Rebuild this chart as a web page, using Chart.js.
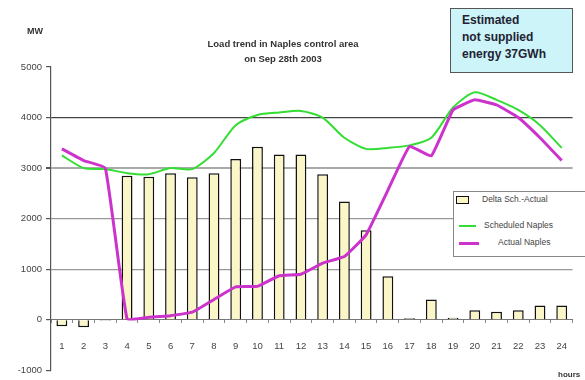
<!DOCTYPE html>
<html><head><meta charset="utf-8">
<script src="https://cdn.jsdelivr.net/npm/chart.js@4/dist/chart.umd.min.js"></script>
<style>
html,body{margin:0;padding:0;background:#fff;overflow:hidden;width:585px;height:380px;}
#wrap{position:relative;width:585px;height:380px;font-family:"Liberation Sans",Arial,sans-serif;}
canvas{position:absolute;left:0;top:0;}
.t{position:absolute;white-space:nowrap;}
</style></head><body>
<div id="wrap">
<canvas id="c" width="585" height="380"></canvas>
<div class="t" style="left:27px;top:26px;font-size:9px;font-weight:bold;color:#333;">MW</div>
<div class="t" style="left:183px;top:36px;width:200px;text-align:center;font-size:9.5px;font-weight:bold;color:#333;line-height:15px;">Load trend in Naples control area<br>on Sep 28th 2003</div>
<div class="t" style="left:450px;top:8px;width:121px;height:63px;background:#cdf4f8;border:1px solid #555;"></div>
<div class="t" style="left:462px;top:12px;font-size:12px;font-weight:bold;color:#223;line-height:17px;">Estimated<br>not supplied<br>energy 37GWh</div>
<div class="t" style="left:453px;top:191px;width:140px;height:64px;background:#fff;border:1px solid #888;"></div>
<div class="t" style="left:456px;top:196px;width:11px;height:6px;background:#fbf6c8;border:1.5px solid #111;"></div>
<div class="t" style="left:482px;top:194px;font-size:8.5px;color:#444;">Delta Sch.-Actual</div>
<div class="t" style="left:459px;top:225px;width:17px;height:1.5px;background:#33dd33;"></div>
<div class="t" style="left:484px;top:220px;font-size:8.5px;color:#444;">Scheduled Naples</div>
<div class="t" style="left:459px;top:242px;width:20px;height:3px;background:#cc33cc;"></div>
<div class="t" style="left:498px;top:237px;font-size:8.5px;color:#444;">Actual Naples</div>
<div class="t" style="left:558px;top:370px;font-size:8px;font-weight:bold;color:#333;">hours</div>
</div>
<script>
const hours = ["1","2","3","4","5","6","7","8","9","10","11","12","13","14","15","16","17","18","19","20","21","22","23","24"];
const deltaSchActual = [-130,-150,-20,2850,2830,2900,2820,2900,3180,3420,3270,3270,2880,2340,1770,860,30,400,40,190,160,190,280,280];
const scheduledNaples = [3250,3000,2980,2900,2880,3000,2980,3300,3850,4050,4100,4130,4000,3600,3380,3400,3450,3600,4200,4500,4350,4150,3850,3400];
const actualNaples = [3380,3150,3000,20,50,80,150,400,650,660,870,900,1120,1250,1680,2560,3430,3240,4150,4350,4250,4000,3600,3150];
const yTicks = [-1000,0,1000,2000,3000,4000,5000];

new Chart(document.getElementById('c'), {
  data: {
    labels: hours,
    datasets: [
      {type:'bar', label:'Delta Sch.-Actual', data: deltaSchActual, backgroundColor:'#fbf6c8', borderColor:'#111', borderWidth:1.5, barPercentage:0.5, categoryPercentage:1, order:3},
      {type:'line', label:'Scheduled Naples', data: scheduledNaples, borderColor:'#33dd33', borderWidth:2, pointRadius:0, tension:0.25, fill:false, order:2},
      {type:'line', label:'Actual Naples', data: actualNaples, borderColor:'#cc33cc', borderWidth:3, pointRadius:0, tension:0.1, fill:false, order:1}
    ]
  },
  options: {
    responsive:false, animation:false,
    layout:{padding:{top:67,bottom:4,left:0,right:0}},
    plugins:{legend:{display:false}, tooltip:{enabled:false}},
    scales:{
      x:{
        position:{y:0},
        offset:true,
        grid:{offset:true, drawOnChartArea:false, drawTicks:true, tickLength:3, color:'#888'},
        border:{display:true, color:'#777', width:1},
        ticks:{color:'#444', font:{family:'Liberation Sans', size:9.5}, padding:18, maxRotation:0, autoSkip:false}
      },
      y:{
        min:-1000, max:5000,
        afterBuildTicks:(s)=>{ s.ticks = yTicks.map(v=>({value:v})); },
        afterFit:(s)=>{ s.width = 51; },
        grid:{
          color:(ctx)=>{ const v=ctx.tick&&ctx.tick.value; if(v===4000) return '#444'; if(v===3000) return '#aaa'; if(v===2000||v===1000) return '#999'; return 'rgba(0,0,0,0)'; },
          lineWidth:(ctx)=>{ const v=ctx.tick&&ctx.tick.value; return v===3000?2:1.2; },
          tickColor:'#555', tickLength:5, drawTicks:true
        },
        border:{display:true, color:'#555', width:1.2},
        ticks:{color:'#444', font:{family:'Liberation Sans', size:9.5}, padding:4, callback:(v)=>String(v)}
      }
    }
  }
});
</script>
</body></html>
